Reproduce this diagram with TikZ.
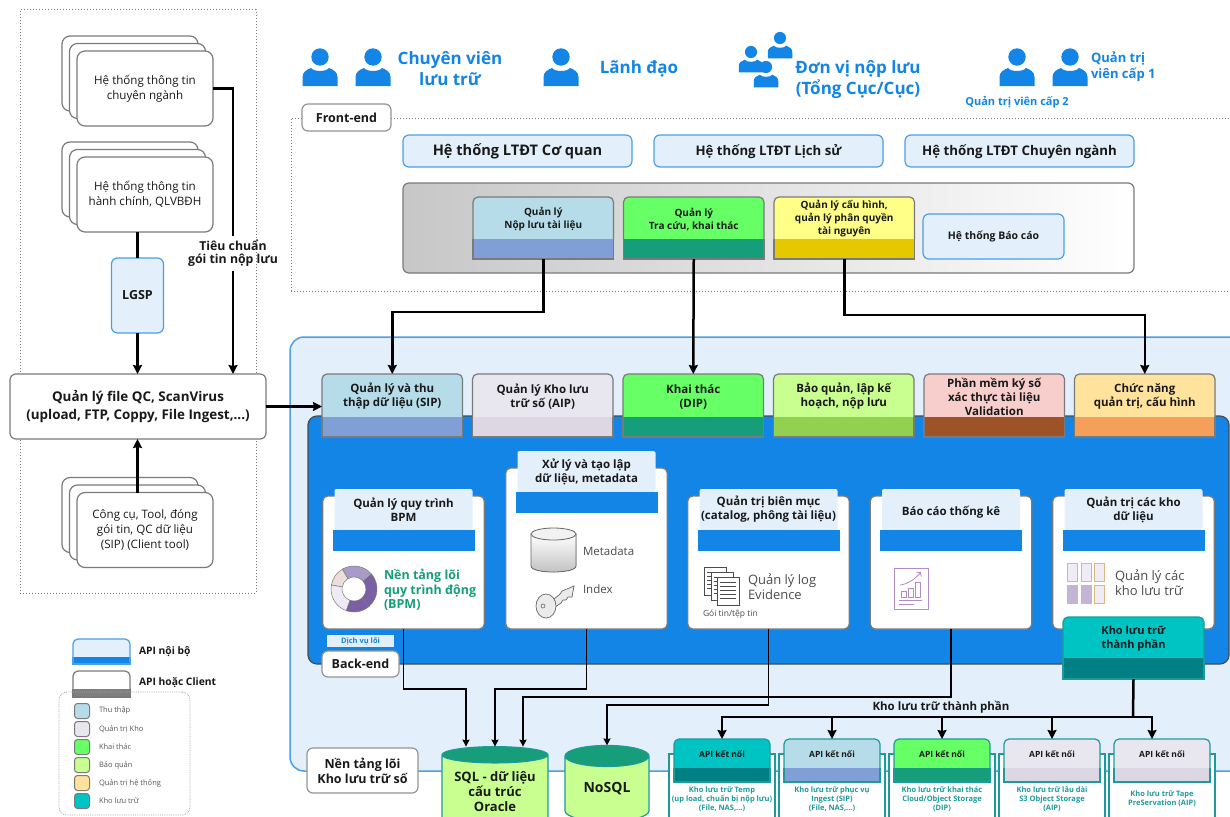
\documentclass[tikz,border=0pt]{standalone}
\usepackage{fontspec}
\setmainfont{Open Sans}
\usetikzlibrary{arrows.meta,positioning,shapes.geometric,shadows}

\definecolor{userblue}{HTML}{1285E6}
\definecolor{lightblue}{HTML}{E3F0FB}
\definecolor{edgeblue}{HTML}{4A9FE8}
\definecolor{edgegray}{HTML}{7A7A7A}
\definecolor{edgeteal}{HTML}{1F9A9A}
\definecolor{sipA}{HTML}{B5DCE8}\definecolor{sipB}{HTML}{7F9FD6}
\definecolor{aipA}{HTML}{E8E6EE}\definecolor{aipB}{HTML}{DDD7E4}
\definecolor{dipA}{HTML}{66FF66}\definecolor{dipB}{HTML}{169E7B}
\definecolor{bqA}{HTML}{C8FF90}\definecolor{bqB}{HTML}{92D050}
\definecolor{ksA}{HTML}{F8CECC}\definecolor{ksB}{HTML}{9E5228}
\definecolor{cnA}{HTML}{FFE29C}\definecolor{cnB}{HTML}{F4A05A}
\definecolor{cfA}{HTML}{FFFF88}\definecolor{cfB}{HTML}{E6C800}
\definecolor{tealA}{HTML}{00C4C4}\definecolor{tealB}{HTML}{007F85}
\definecolor{noiA}{HTML}{E3F0FB}\definecolor{noiB}{HTML}{1285E6}
\definecolor{cliA}{HTML}{FFFFFF}\definecolor{cliB}{HTML}{7F7F7F}
\definecolor{iconpurple}{HTML}{B18CC8}
\definecolor{ringdark}{HTML}{7B5FA5}
\definecolor{ringmid}{HTML}{A99BC8}
\definecolor{ringpink}{HTML}{EBDDD9}
\definecolor{ringpale}{HTML}{EEEBF4}
\definecolor{gridedge}{HTML}{D9B97F}
\definecolor{gridfill}{HTML}{C4B4D6}
\definecolor{gridpale}{HTML}{F0ECF5}

\newcommand{\sized}[2]{\fontsize{#1}{#2}\selectfont}

\tikzset{
  every node/.style={outer sep=0pt,inner sep=0pt,align=center,text=black!90},
  apitop/.style={line width=1.2pt,rounded corners=5pt},
  apilabel/.style={align=center,yshift=1.5pt},
  toprow/.style={minimum width=140.5pt,minimum height=48pt},
  modrow/.style={minimum width=140.5pt,minimum height=47pt},
  bottomrow/.style={minimum width=96pt,minimum height=34pt},
  legendrow/.style={minimum width=57pt,minimum height=23pt},
  pill/.style={draw=edgeblue,fill=lightblue,line width=1.2pt,rounded corners=6pt},
  ltpill/.style={pill,minimum width=229pt,minimum height=32pt,text height=12pt,text depth=3pt},
  tagbox/.style={draw=edgegray!80,fill=white,line width=1.2pt,rounded corners=6pt,font=\sized{12.5}{15}\bfseries},
  stackbox/.style={draw=edgegray,fill=white,line width=1.2pt,rounded corners=8pt,minimum width=136pt,minimum height=75pt,
    font=\sized{11.6}{15},double copy shadow={shadow xshift=-7.5pt,shadow yshift=7.5pt,draw=edgegray,line width=1.2pt}},
  card/.style={draw=edgegray,fill=white,line width=1.2pt,rounded corners=5pt,minimum width=161.5pt},
  cardhead/.style={fill=lightblue,minimum width=138pt,minimum height=41pt,rounded corners=2pt,font=\sized{11.5}{14}\bfseries},
  cardband/.style={fill=userblue,minimum width=142pt,minimum height=21pt},
  desctext/.style={text=edgeteal,font=\sized{7.5}{9}\bfseries},
  descbox/.style={draw=edgeteal,fill=white,line width=1.2pt,minimum width=106pt,minimum height=80pt,anchor=north},
  dbcyl/.style={cylinder,shape border rotate=90,aspect=.2,draw=edgeteal,line width=1.2pt,
    cylinder uses custom fill,cylinder end fill=dipB,cylinder body fill=bqA,font=\sized{13}{15}\bfseries},
  swatch/.style={draw=edgegray,line width=1pt,rounded corners=3pt,minimum size=15pt},
  icontext/.style={text=black!70,align=left,anchor=west,font=\sized{13}{15}},
  userlabel/.style={text=userblue,font=\sized{17}{21}\bfseries},
  thickline/.style={line width=2.5pt,>={Stealth[length=9pt,width=9pt,inset=1pt]}},
  thinline/.style={line width=1.5pt,>={Stealth[length=7pt,width=7pt,inset=.8pt]}},
  person/.pic={
    \fill[userblue] (0,0) circle (8.7);
    \fill[userblue] (-17.5,29) -- (-17.5,20) .. controls (-17.5,15) and (-13,12.5) .. (-9,11) .. controls (-6,15) and (6,15) .. (9,11) .. controls (13,12.5) and (17.5,15) .. (17.5,20) -- (17.5,29) -- cycle;
  }
}

% [label size] #2 name, #3 colour key, #4 node options, #5 band below the node, #6 edge, #7 text
\newcommand{\apibox}[7][\sized{11.5}{14}]{%
  \node[apitop,draw=#6,fill=#3A,#4,label={[apilabel,font=#1\bfseries]center:{#7}}] (#2) {};
  \fill[#3B] ([yshift=5pt]#2.south west) rectangle ([yshift=-#5pt]#2.south east);
  \draw[#6,line width=1.2pt] ([yshift=5pt]#2.south west) -- ([yshift=-#5pt]#2.south west) -- ([yshift=-#5pt]#2.south east) -- ([yshift=5pt]#2.south east);
  \coordinate (#2b) at ([yshift=-#5pt]#2.south);
}

\begin{document}
\begin{tikzpicture}[x=1pt,y=-1pt,node distance=10pt]
  \useasboundingbox (0,0) rectangle (1230,816);
  \clip (0,0) rectangle (1230,816);
  \fill[white] (0,0) rectangle (1230,816);

  % left side
  \node[draw=edgegray,dotted,line width=1pt,minimum width=236pt,minimum height=583pt] (leftzone) at (138,301.5) {};
  \node[stackbox] (chuyennganh) at (145,88.5) {Hệ thống thông tin\\chuyên ngành};
  \node[stackbox] (hanhchinh) at (145,194.5) {Hệ thống thông tin\\hành chính, QLVBĐH};
  \node[stackbox] (congcu) at (145,530) {Công cụ, Tool, đóng\\gói tin, QC dữ liệu\\(SIP) (Client tool)};
  \node[pill,minimum width=52pt,minimum height=75pt,font=\sized{12.5}{14}\bfseries] (lgsp) at (137.5,295.5) {LGSP};
  \node[draw=edgegray,fill=white,line width=1.2pt,rounded corners=6pt,minimum width=256pt,minimum height=65pt,font=\sized{13.4}{18}\bfseries] (qcfile) at (138,406.5) {Quản lý file QC, ScanVirus\\(upload, FTP, Coppy, File Ingest,...)};
  \node[minimum height=35pt,font=\sized{12.3}{13.5}\bfseries] (tieuchuan) at (233,253) {Tiêu chuẩn\\gói tin nộp lưu};

  % users
  \pic at (320,57) {person};
  \pic at (373,57) {person};
  \pic at (561,57) {person};
  \pic[scale=.7] at (751,52) {person};
  \pic[scale=.7] at (780,38) {person};
  \pic[scale=.7] at (766,67) {person};
  \pic at (1017,57) {person};
  \pic at (1070,57) {person};
  \node[userlabel] (chuyenvien) at (450,68.5) {Chuyên viên\\lưu trữ};
  \node[userlabel] (lanhdao) at (639,69) {Lãnh đạo};
  \node[userlabel] (donvi) at (858,80) {Đơn vị nộp lưu\\(Tổng Cục/Cục)};
  \node[userlabel,font=\sized{13}{16}\bfseries,align=left,anchor=west] (qtv1) at (1091,67) {Quản trị\\viên cấp 1};
  \node[userlabel,font=\sized{11}{13}\bfseries] (qtv2) at (1017,102) {Quản trị viên cấp 2};

  % front-end
  \node[draw=edgegray,dotted,line width=1pt,minimum width=960pt,minimum height=173pt,anchor=north west] (frontzone) at (291,118) {};
  \node[tagbox,minimum width=89pt,minimum height=27pt] (frontend) at (346.5,117.5) {Front-end};
  \node[ltpill,font=\sized{14.6}{16}\bfseries] (ltcoquan) at (517.5,151) {Hệ thống LTĐT Cơ quan};
  \node[ltpill,font=\sized{13.2}{16}\bfseries,right=22pt of ltcoquan] (ltlichsu) {Hệ thống LTĐT Lịch sử};
  \node[ltpill,font=\sized{13.3}{16}\bfseries,right=22pt of ltlichsu] (ltchuyennganh) {Hệ thống LTĐT Chuyên ngành};
  \node[draw=edgegray,line width=1.2pt,rounded corners=6pt,left color=black!22,right color=white,minimum width=731pt,minimum height=90pt] (frontpanel) at (768.5,228) {};
  \apibox[\sized{10}{13}]{qlnop}{sip}{modrow,anchor=north west,at={(473,197)}}{15}{edgegray}{Quản lý\\Nộp lưu tài liệu}
  \apibox[\sized{10}{13}]{qltra}{dip}{modrow,right=of qlnop}{15}{edgegray}{Quản lý\\Tra cứu, khai thác}
  \apibox[\sized{10}{13}]{qlcfg}{cf}{modrow,right=of qltra}{15}{edgegray}{Quản lý cấu hình,\\quản lý phân quyền\\tài nguyên}
  \node[pill,minimum width=141pt,minimum height=45pt,font=\sized{10.5}{13}\bfseries] (baocaofe) at (993.5,236.5) {Hệ thống Báo cáo};

  % back-end
  \node[draw=edgeblue,fill=lightblue,line width=1.5pt,rounded corners=14pt,minimum width=960pt,minimum height=434pt,anchor=north west] (nentang) at (290,337) {};
  \node[draw=black!70,fill=userblue,line width=1.2pt,rounded corners=9pt,minimum width=921pt,minimum height=248pt,anchor=north west] (backpanel) at (308,416) {};
  \apibox{sip}{sip}{toprow,anchor=north west,at={(322,374)}}{15}{edgegray}{Quản lý và thu\\thập dữ liệu (SIP)}
  \apibox{aip}{aip}{toprow,right=of sip}{15}{edgegray}{Quản lý Kho lưu\\trữ số (AIP)}
  \apibox{dip}{dip}{toprow,right=of aip}{15}{edgegray}{Khai thác\\(DIP)}
  \apibox{baoquan}{bq}{toprow,right=of dip}{15}{edgegray}{Bảo quản, lập kế\\hoạch, nộp lưu}
  \apibox{kyso}{ks}{toprow,right=of baoquan}{15}{edgegray}{Phần mềm ký số\\xác thực tài liệu\\Validation}
  \apibox{chucnang}{cn}{toprow,right=of kyso}{15}{edgegray}{Chức năng\\quản trị, cấu hình}

  \node[card,minimum height=133pt,anchor=south] (bpm) at (403.5,629) {};
  \node[cardhead,anchor=north] (bpmhead) at ([yshift=7pt]bpm.north) {Quản lý quy trình\\BPM};
  \node[cardband,below=0pt of bpmhead] (bpmband) {};
  \node[card,minimum height=161pt,anchor=south] (xuly) at (586.5,629) {};
  \node[cardhead,anchor=north] (xulyhead) at ([yshift=17pt]xuly.north) {Xử lý và tạo lập\\dữ liệu, metadata};
  \node[cardband,below=0pt of xulyhead] (xulyband) {};
  \node[card,minimum height=133pt,anchor=south] (bienmuc) at (768.5,629) {};
  \node[cardhead,anchor=north] (bienmuchead) at ([yshift=7pt]bienmuc.north) {Quản trị biên mục\\(catalog, phông tài liệu)};
  \node[cardband,below=0pt of bienmuchead] (bienmucband) {};
  \node[card,minimum height=133pt,anchor=south] (baocao) at (951,629) {};
  \node[cardhead,anchor=north,text height=14pt,text depth=3pt] (baocaohead) at ([yshift=7pt]baocao.north) {Báo cáo thống kê};
  \node[cardband,below=0pt of baocaohead] (baocaoband) {};
  \node[card,minimum height=133pt,anchor=south] (quantri) at (1133.5,629) {};
  \node[cardhead,anchor=north] (quantrihead) at ([yshift=7pt]quantri.north) {Quản trị các kho\\dữ liệu};
  \node[cardband,below=0pt of quantrihead] (quantriband) {};

  % BPM ring
  \begin{scope}[shift={(354,589)}]
    \foreach \s/\e/\col in {190/240/ringpink,240/320/ringmid,320/410/ringdark,410/470/ringdark,470/550/ringpale}
      \filldraw[draw=edgegray,fill=\col,line width=.5pt] (\s:23) arc[start angle=\s,end angle=\e,radius=23] -- (\e:12) arc[start angle=\e,end angle=\s,radius=12] -- cycle;
  \end{scope}
  \node[anchor=west,align=left,text=dipB,font=\sized{12.5}{14.5}\bfseries] (bpmtext) at (384,590) {Nền tảng lõi\\quy trình động\\(BPM)};

  % metadata and index
  \filldraw[draw=black!60,line width=.8pt,top color=white,bottom color=black!25] (531,534) -- (531,566) .. controls (531,574) and (576,574) .. (576,566) -- (576,534) -- cycle;
  \filldraw[draw=black!60,fill=black!5,line width=.8pt] (553.5,534) ellipse (22.5 and 6);
  \node[icontext,font=\sized{11.5}{14}] (metatext) at (583,551) {Metadata};
  \begin{scope}[shift={(546,606)}]
    \filldraw[draw=black!60,fill=black!8,line width=.7pt] (8,-7) -- (14,-12) -- (16,-15) -- (28,-20) -- (26,-9) -- (22,-9) -- (20,-6) -- (17,-6) -- (15,-3) -- (9,1) -- cycle;
    \filldraw[draw=black!60,fill=black!8,line width=.7pt] (0,0) ellipse (10 and 12);
    \draw[black!60,line width=.6pt] (-3,0) circle (2);
  \end{scope}
  \node[icontext,font=\sized{11.5}{14}] (indextext) at (583,589) {Index};

  % log icon
  \foreach \x/\y in {704/567,711/572,717/577} {
    \filldraw[draw=black!70,fill=white,line width=.6pt] (\x,\y) rectangle ++(22,28);
    \foreach \l in {5,9,13,17,21}
      \draw[black!70,line width=.7pt] (\x+3,\y+\l) -- ++(16,0);
  }
  \node[icontext] (logtext) at (748,586.5) {Quản lý log\\Evidence};
  \node[icontext,font=\sized{8.5}{10}] (goitin) at (703,614) {Gói tin/tệp tin};

  % chart icon
  \draw[iconpurple,line width=.8pt] (894,568) rectangle (928,609);
  \foreach \x/\h in {901/6,908/9,915/15}
    \draw[iconpurple,line width=.8pt] (\x,597) rectangle ++(5,-\h);
  \draw[iconpurple,line width=.8pt,->] (900,585) .. controls (908,584) and (914,580) .. (921,572);
  \draw[iconpurple,line width=.8pt] (899,600) -- (922,600) (899,604) -- (914,604);

  % grid icon
  \foreach \x/\y/\col in {1067/563/gridpale,1081/563/gridpale,1094/563/gridpale,1067/585/gridfill,1081/585/gridfill,1094/585/gridpale}
    \filldraw[draw=gridedge,fill=\col,line width=1pt] (\x,\y) rectangle ++(10,18.5);
  \node[icontext] (khotext) at (1115,582.5) {Quản lý các\\kho lưu trữ};

  \node[fill=lightblue,minimum width=67pt,minimum height=12pt,text=userblue,font=\sized{7.5}{9}\bfseries] (dichvu) at (360.5,641) {Dịch vụ lõi};
  \node[tagbox,minimum width=77pt,minimum height=26pt] (backend) at (360.5,664) {Back-end};
  \apibox[\sized{11}{14}]{khotp}{teal}{minimum width=141pt,minimum height=46pt,anchor=north west,at={(1063,617)}}{16}{edgeteal}{Kho lưu trữ\\thành phần}

  % storage
  \node[tagbox,minimum width=111pt,minimum height=45pt,font=\sized{12.5}{15}\bfseries] (nentanglabel) at (362.5,770.5) {Nền tảng lõi\\Kho lưu trữ số};
  \node[dbcyl,minimum width=106pt,minimum height=82pt] (sql) at (495,792) {SQL - dữ liệu\\cấu trúc\\Oracle};
  \node[dbcyl,aspect=.45,minimum width=84pt,minimum height=76pt,font=\sized{14}{16}\bfseries] (nosql) at (607,789) {NoSQL};
  \node[font=\sized{11.5}{14}\bfseries] (khotplabel) at (941,707) {Kho lưu trữ thành phần};

  \foreach \name/\key/\x/\txt in {temp/teal/674/{Kho lưu trữ Temp\\(up load, chuẩn bị nộp lưu)\\(File, NAS,...)},
      phucvu/sip/784/{Kho lưu trữ phục vụ\\Ingest (SIP)\\(File, NAS,...)},
      khaithac/dip/894/{Kho lưu trữ khai thác\\Cloud/Object Storage\\(DIP)},
      laudai/aip/1004/{Kho lưu trữ lâu dài\\S3 Object Storage\\(AIP)},
      tape/aip/1114/{Kho lưu trữ Tape\\PreServation (AIP)}} {
    \node[descbox] (\name box) at (\x+48,754) {};
    \apibox[\sized{8.5}{11}]{\name}{\key}{bottomrow,anchor=north west,at={(\x,739)}}{9}{edgeteal}{API kết nối}
    \node[desctext] (\name text) at ([yshift=-17pt]\name b) {\txt};
  }

  % legend
  \apibox{apinoibo}{noi}{legendrow,anchor=north west,at={(73,639)}}{2}{edgeblue}{}
  \node[anchor=west,font=\sized{10.3}{12}\bfseries] (apinoibotext) at (139,652) {API nội bộ};
  \apibox{apiclient}{cli}{legendrow,anchor=north west,at={(73,671)}}{3}{edgegray}{}
  \node[anchor=west,font=\sized{10.3}{12}\bfseries] (apiclienttext) at (139,683) {API hoặc Client};
  \node[draw=black!35,densely dotted,line width=.8pt,rounded corners=8pt,minimum width=131pt,minimum height=123pt,anchor=north west] (legendbox) at (59,692) {};
  \foreach \y/\col/\txt in {711/sipA/Thu thập,729/aipA/Quản trị Kho,747/dipA/Khai thác,765/bqA/Bảo quản,783/cnA/Quản trị hệ thống,801/tealA/Kho lưu trữ} {
    \node[swatch,fill=\col] (sw\y) at (82,\y) {};
    \node[anchor=west,text=black!65,font=\sized{7.5}{9}] (swt\y) at (99,\y) {\txt};
  }

  % connectors
  \draw[thickline] (chuyennganh.east) -| (tieuchuan.north);
  \draw[thickline,->] (tieuchuan.south) -- (tieuchuan.south |- qcfile.north);
  \draw[thickline] (hanhchinh.south -| lgsp.north) -- (lgsp.north);
  \draw[thickline,->] (lgsp.south) -- (lgsp.south |- qcfile.north);
  \draw[thickline,->] (congcu.north -| lgsp.south) -- (lgsp.south |- qcfile.south);
  \draw[thickline,->] (qcfile.east) -- (sip.west |- qcfile.east);
  \draw[thickline,->] (qlnopb) -- ++(0,53) -| (sip.north);
  \draw[thickline,->] (qltrab) -- (dip.north);
  \draw[thickline,->] (qlcfgb) -- ++(0,56) -| (chucnang.north);
  \draw[thinline,->] (bpm.south) -- ++(0,60) -| ([xshift=-29pt]sql.north);
  \draw[thinline,->] (xuly.south) -- ++(0,60) -| (sql.north);
  \draw[thinline,->] (baocao.south) -- ++(0,68) -| ([xshift=28pt]sql.north);
  \draw[thinline,->] (bienmuc.south) -- ++(0,76) -| (nosql.north);
  \coordinate (khobus) at (1133,717);
  \draw[thickline] (khotpb) -- (khobus);
  \foreach \name/\off in {temp/0,phucvu/0,khaithac/0,laudai/0,tape/-10}
    \draw[thickline,->] (khobus) -| ([xshift=\off pt]\name.north);
\end{tikzpicture}
\end{document}
